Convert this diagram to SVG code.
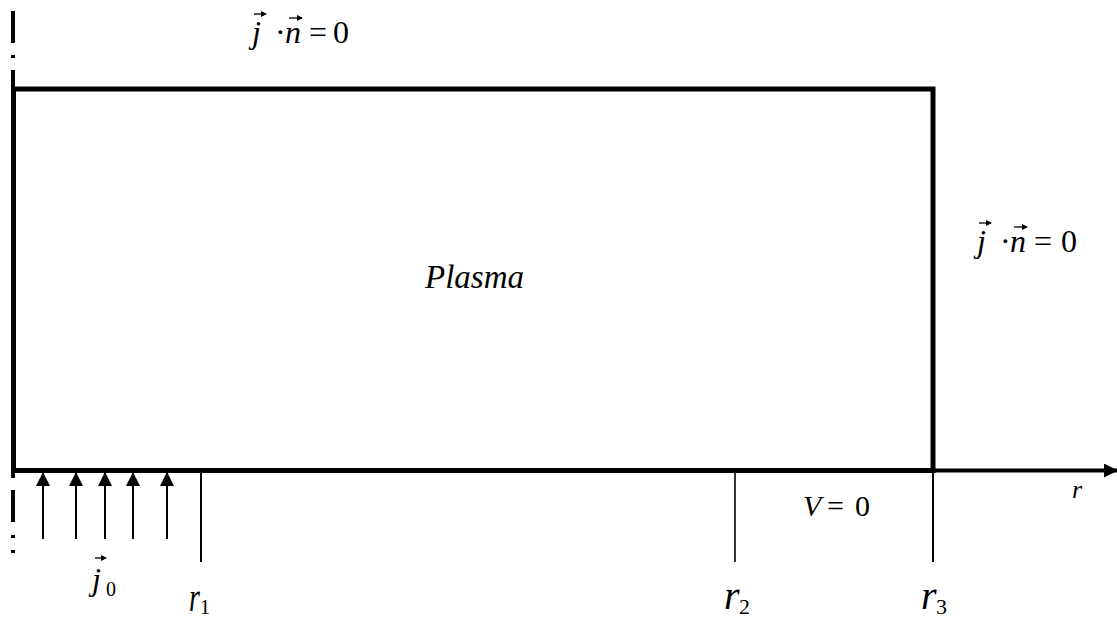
<svg xmlns="http://www.w3.org/2000/svg" width="1117" height="619" viewBox="0 0 1117 619">
<style>
.it{font-style:italic}
.vec{stroke:#000;stroke-width:1.3;fill:none}
text{font-family:'Liberation Serif','Times New Roman','DejaVu Serif',serif;fill:#000}
</style>
<defs>
<marker id="vh" viewBox="0 0 6 6" refX="5" refY="3" markerWidth="6" markerHeight="6" markerUnits="userSpaceOnUse" orient="auto"><path d="M0,0 L6,3 L0,6 z" fill="#000"/></marker>
<marker id="ah" viewBox="0 0 14 14" refX="13" refY="7" markerWidth="14" markerHeight="14" markerUnits="userSpaceOnUse" orient="auto"><path d="M0,0 L14,7 L0,14 z" fill="#000"/></marker>
</defs>
<rect width="1117" height="619" fill="#fff"/>
<g id="symmetry-axis" stroke="#000" stroke-width="4" fill="none">
<line x1="13" y1="11" x2="13" y2="43"/>
<line x1="13" y1="55" x2="13" y2="58"/>
<line x1="13" y1="70" x2="13" y2="89"/>
<line x1="13" y1="473" x2="13" y2="478"/>
<line x1="13" y1="490" x2="13" y2="522"/>
<line x1="13" y1="535" x2="13" y2="538"/>
<line x1="13" y1="550" x2="13" y2="553"/>
</g>
<g id="plasma">
<rect x="13.5" y="89" width="919.5" height="381.5" fill="none" stroke="#000" stroke-width="5"/>
<text class="it" x="425" y="288" font-size="33">Plasma</text>
</g>
<g id="connectors" stroke="#000" fill="none">
<line x1="935" y1="470.5" x2="1117" y2="470.5" stroke-width="4" marker-end="url(#ah)"/>
<line x1="201" y1="472" x2="201" y2="562" stroke-width="2"/>
<line x1="735" y1="472" x2="735" y2="562" stroke-width="1.6"/>
<line x1="933" y1="472" x2="933" y2="562" stroke-width="2"/>
<g id="current-arrows" stroke-width="2">
<line x1="43" y1="539" x2="43" y2="473" marker-end="url(#ah)"/>
<line x1="76" y1="539" x2="76" y2="473" marker-end="url(#ah)"/>
<line x1="105" y1="539" x2="105" y2="473" marker-end="url(#ah)"/>
<line x1="133" y1="539" x2="133" y2="473" marker-end="url(#ah)"/>
<line x1="167" y1="539" x2="167" y2="473" marker-end="url(#ah)"/>
</g>
</g>
<g id="top-bc">
<text class="it" x="252" y="43" font-size="32">j</text>
<line class="vec" x1="254" y1="14" x2="266" y2="14" marker-end="url(#vh)"/>
<text x="275" y="43" font-size="32">·</text>
<text class="it" x="285" y="43" font-size="32">n</text>
<line class="vec" x1="289" y1="18" x2="302" y2="18" marker-end="url(#vh)"/>
<text x="309" y="43" font-size="32">=</text>
<text x="333" y="43" font-size="32">0</text>
</g>
<g id="right-bc">
<text class="it" x="977" y="252" font-size="32">j</text>
<line class="vec" x1="979" y1="223" x2="991" y2="223" marker-end="url(#vh)"/>
<text x="1000" y="252" font-size="32">·</text>
<text class="it" x="1010" y="252" font-size="32">n</text>
<line class="vec" x1="1014" y1="227" x2="1027" y2="227" marker-end="url(#vh)"/>
<text x="1034" y="252" font-size="32">=</text>
<text x="1061" y="252" font-size="32">0</text>
</g>
<g id="v0">
<text class="it" x="803" y="516" font-size="30">V</text>
<text x="827" y="516" font-size="30">=</text>
<text x="855" y="516" font-size="30">0</text>
</g>
<g id="j0">
<text class="it" x="92" y="590" font-size="32">j</text>
<line class="vec" x1="95" y1="558" x2="106" y2="558" marker-end="url(#vh)"/>
<text x="106" y="596" font-size="20">0</text>
</g>
<g id="labels">
<text class="it" x="1072" y="498" font-size="26">r</text>
<text class="it" x="0" y="0" font-size="40" transform="translate(189,611) scale(0.7,1)">r</text>
<text x="200" y="614" font-size="20">1</text>
<text class="it" x="724" y="609" font-size="40">r</text>
<text x="739" y="614" font-size="22">2</text>
<text class="it" x="921" y="609" font-size="40">r</text>
<text x="936" y="614" font-size="22">3</text>
</g>
</svg>
